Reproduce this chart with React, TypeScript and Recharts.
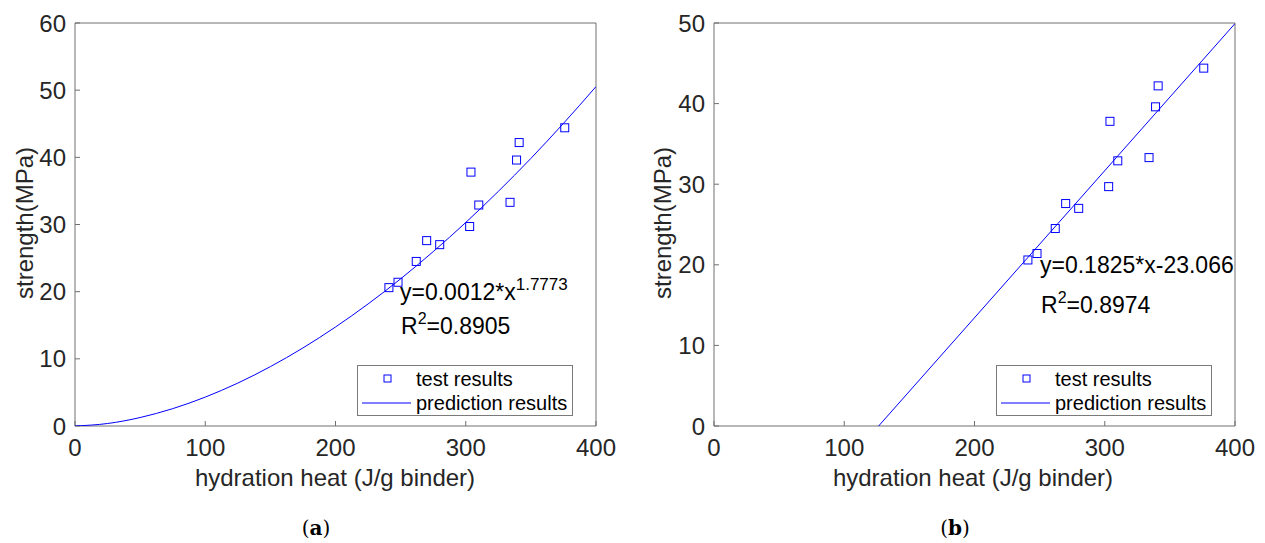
import React from 'react';
import { ScatterChart, Scatter, XAxis, YAxis, Legend } from 'recharts';

// measured test points (same set in both panels)
const hydrationHeat = [241, 248, 262, 270, 280, 303, 304, 310, 334, 339, 341, 376];
const strength = [20.6, 21.4, 24.5, 27.6, 27.0, 29.7, 37.8, 32.9, 33.3, 39.6, 42.2, 44.4];

// (a) power fit curve
const powerFitX = [0, 25, 50, 75, 100, 125, 150, 175, 200, 225, 250, 275, 300, 325, 350, 375, 400];
const powerFitY = [0, 0.37, 1.26, 2.58, 4.3, 6.39, 8.84, 11.62, 14.74, 18.17, 21.91, 25.96, 30.3, 34.93, 39.84, 45.05, 50.53];

// (b) linear fit line end points
const linearFitX = [126.4, 400];
const linearFitY = [0, 49.93];

const xTicks = [0, 100, 200, 300, 400];
const yTicksA = [0, 10, 20, 30, 40, 50, 60];
const yTicksB = [0, 10, 20, 30, 40, 50];

const FONT = '"Liberation Sans", Arial, Helvetica, sans-serif';
const TEXT = '#262626';
const AXIS = '#707070';
const BLUE = '#0000ff';

const toPoints = (xs: number[], ys: number[]) => xs.map((x, i) => ({ x, y: ys[i] }));

const SquareMark = (props: any) => {
    const { cx, cy } = props;
    if (cx == null || cy == null) return <g />;
    return <rect x={cx - 4} y={cy - 4} width={8} height={8} fill="none" stroke={BLUE} strokeWidth={1} />;
};

const LegendBox = ({ payload }: any) => {
    // markers first, fitted line second (as in the original legend)
    const items = [...(payload || [])].sort((a: any, b: any) => (a.type === 'line' ? 1 : 0) - (b.type === 'line' ? 1 : 0));
    return (
        <div
            style={{
                width: 216,
                height: 51,
                border: '1px solid #7a7a7a',
                background: '#fff',
                fontFamily: FONT,
                fontSize: 20,
                color: '#000',
                boxSizing: 'border-box',
            }}
        >
            {items.map((entry: any, i: number) => (
                <div key={`leg-${i}`} style={{ display: 'flex', alignItems: 'center', height: 24, marginTop: i === 0 ? 1 : 0 }}>
                    <svg width={58} height={24}>
                        {entry.type === 'line' ? (
                            <line x1={4} y1={12} x2={53} y2={12} stroke={BLUE} strokeWidth={1} />
                        ) : (
                            <rect x={26} y={8} width={7} height={7} fill="none" stroke={BLUE} strokeWidth={1} />
                        )}
                    </svg>
                    <span style={{ whiteSpace: 'nowrap' }}>{entry.value}</span>
                </div>
            ))}
        </div>
    );
};

interface PanelProps {
    fitX: number[];
    fitY: number[];
    yMax: number;
    yTicks: number[];
}

const Panel: React.FC<PanelProps> = ({ fitX, fitY, yMax, yTicks }) => {
    const tests = toPoints(hydrationHeat, strength);
    const fit = toPoints(fitX, fitY);
    const tickStyle = { fill: TEXT, fontSize: 24, fontFamily: FONT };

    return (
        <ScatterChart width={620} height={543} margin={{ top: 22, right: 23, bottom: 77, left: 15 }}>
            <XAxis
                type="number"
                dataKey="x"
                domain={[0, 400]}
                ticks={xTicks}
                interval={0}
                height={40}
                tickSize={-5}
                tickMargin={18}
                axisLine={{ stroke: AXIS }}
                tickLine={{ stroke: AXIS }}
                tick={tickStyle}
                allowDataOverflow
            />
            <XAxis
                xAxisId="top"
                orientation="top"
                type="number"
                domain={[0, 400]}
                ticks={xTicks}
                interval={0}
                height={1}
                tickSize={-5}
                axisLine={{ stroke: AXIS }}
                tickLine={{ stroke: AXIS }}
                tick={false}
                allowDataOverflow
            />
            <YAxis
                type="number"
                dataKey="y"
                domain={[0, yMax]}
                ticks={yTicks}
                interval={0}
                width={60}
                tickSize={-5}
                tickMargin={14}
                axisLine={{ stroke: AXIS }}
                tickLine={{ stroke: AXIS }}
                tick={tickStyle}
                allowDataOverflow
            />
            <YAxis
                yAxisId="right"
                orientation="right"
                type="number"
                domain={[0, yMax]}
                ticks={yTicks}
                interval={0}
                width={1}
                tickSize={-5}
                axisLine={{ stroke: AXIS }}
                tickLine={{ stroke: AXIS }}
                tick={false}
                allowDataOverflow
            />
            <Legend
                layout="vertical"
                align="center"
                verticalAlign="middle"
                content={<LegendBox />}
                wrapperStyle={{ left: 357, top: 365, width: 216, height: 51 }}
            />
            <Scatter
                name="test results"
                data={tests}
                legendType="square"
                shape={<SquareMark />}
                isAnimationActive={false}
            />
            <Scatter
                name="prediction results"
                data={fit}
                legendType="line"
                line={{ stroke: BLUE, strokeWidth: 1 }}
                lineJointType="monotoneX"
                shape={() => <g />}
                isAnimationActive={false}
            />
        </ScatterChart>
    );
};

const App: React.FC = () => {
    const labelStyle = { fontFamily: FONT, fontSize: 24, fill: TEXT } as const;
    const noteStyle = { fontFamily: FONT, fontSize: 23, fill: '#000' } as const;
    return (
        <div style={{ position: 'absolute', left: 0, top: 0, width: 1265, height: 543, background: '#fff' }}>
            <div style={{ position: 'absolute', left: 0, top: 0 }}>
                <Panel fitX={powerFitX} fitY={powerFitY} yMax={60} yTicks={yTicksA} />
            </div>
            <div style={{ position: 'absolute', left: 639, top: 0 }}>
                <Panel fitX={linearFitX} fitY={linearFitY} yMax={50} yTicks={yTicksB} />
            </div>
            <svg width={1265} height={543} style={{ position: 'absolute', left: 0, top: 0, pointerEvents: 'none' }}>
                {/* axis titles */}
                <text x={335} y={486} textAnchor="middle" {...labelStyle}>hydration heat (J/g binder)</text>
                <text x={973} y={486} textAnchor="middle" {...labelStyle}>hydration heat (J/g binder)</text>
                <text transform="translate(33,223) rotate(-90)" textAnchor="middle" {...labelStyle}>strength(MPa)</text>
                <text transform="translate(671,223) rotate(-90)" textAnchor="middle" {...labelStyle}>strength(MPa)</text>

                {/* fit equations */}
                <text x={400} y={300} {...noteStyle}>
                    y=0.0012*x<tspan fontSize={17} dy={-10}>1.7773</tspan>
                </text>
                <text x={401} y={334} {...noteStyle}>
                    R<tspan fontSize={16} dy={-10}>2</tspan><tspan dy={10}>=0.8905</tspan>
                </text>
                <text x={1040} y={273} {...noteStyle}>y=0.1825*x-23.066</text>
                <text x={1041} y={313} {...noteStyle}>
                    R<tspan fontSize={16} dy={-10}>2</tspan><tspan dy={10}>=0.8974</tspan>
                </text>

                {/* sub-figure captions */}
                <text x={316} y={535} textAnchor="middle" fontFamily='"DejaVu Serif", "Liberation Serif", serif' fontSize={20} fill="#000">
                    (<tspan fontWeight="bold">a</tspan>)
                </text>
                <text x={955} y={535} textAnchor="middle" fontFamily='"DejaVu Serif", "Liberation Serif", serif' fontSize={20} fill="#000">
                    (<tspan fontWeight="bold">b</tspan>)
                </text>
            </svg>
        </div>
    );
};

export default App;
